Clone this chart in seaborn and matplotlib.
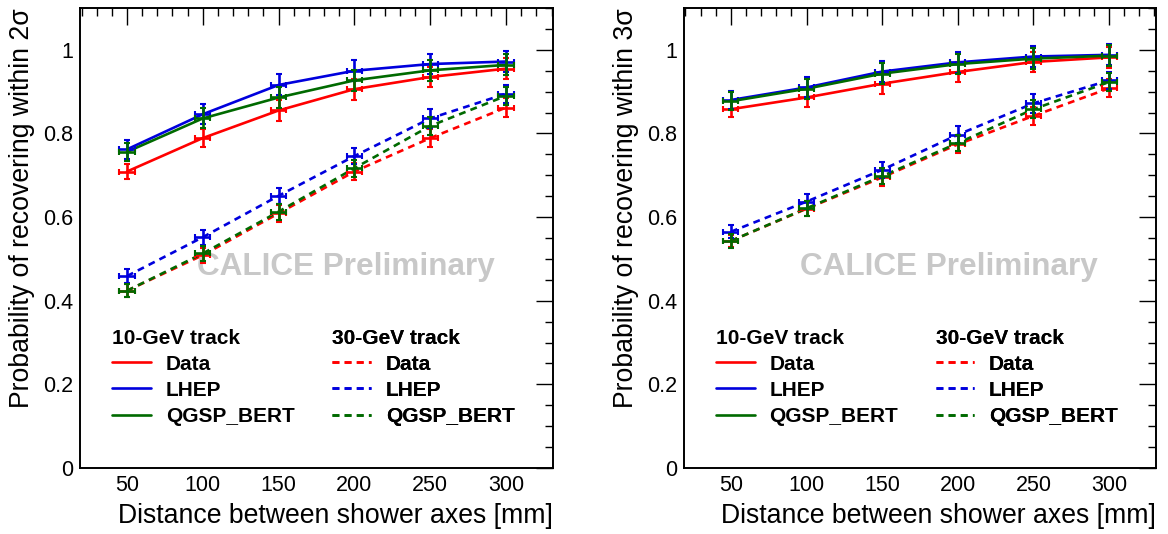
import numpy as np
import pandas as pd
import seaborn as sns
import matplotlib.pyplot as plt
from matplotlib.lines import Line2D
from matplotlib.ticker import MultipleLocator, FuncFormatter

# distances between shower axes [mm]
distance = [50, 100, 150, 200, 250, 300]
x_err = [5, 5, 5, 5, 5, 5]

# probability of recovering within 2 sigma
p2_data_10 = [0.709, 0.789, 0.855, 0.906, 0.935, 0.955]
p2_lhep_10 = [0.762, 0.846, 0.916, 0.950, 0.966, 0.972]
p2_qgsp_10 = [0.756, 0.836, 0.886, 0.927, 0.951, 0.964]
p2_data_30 = [0.424, 0.509, 0.609, 0.709, 0.789, 0.862]
p2_lhep_30 = [0.459, 0.552, 0.651, 0.746, 0.836, 0.895]
p2_qgsp_30 = [0.424, 0.513, 0.613, 0.717, 0.818, 0.890]

# probability of recovering within 3 sigma
p3_data_10 = [0.858, 0.886, 0.919, 0.947, 0.971, 0.982]
p3_lhep_10 = [0.880, 0.910, 0.948, 0.970, 0.984, 0.988]
p3_qgsp_10 = [0.877, 0.907, 0.943, 0.966, 0.979, 0.986]
p3_data_30 = [0.543, 0.620, 0.695, 0.774, 0.842, 0.908]
p3_lhep_30 = [0.565, 0.637, 0.713, 0.797, 0.872, 0.927]
p3_qgsp_30 = [0.543, 0.621, 0.698, 0.777, 0.858, 0.923]

# statistical errors (same for both panels, read roughly)
err_data_10 = [0.019, 0.022, 0.025, 0.025, 0.023, 0.025]
err_mc_10 = [0.022, 0.024, 0.025, 0.025, 0.025, 0.025]
err_data_30 = [0.015, 0.018, 0.020, 0.020, 0.022, 0.022]
err_mc_30 = [0.016, 0.018, 0.019, 0.020, 0.022, 0.021]

models = ["Data", "LHEP", "QGSP_BERT"]
colors = {"Data": "#ff0000", "LHEP": "#0000dd", "QGSP_BERT": "#006a00"}

panels = [
    ("2", {("10", "Data"): p2_data_10, ("10", "LHEP"): p2_lhep_10, ("10", "QGSP_BERT"): p2_qgsp_10,
           ("30", "Data"): p2_data_30, ("30", "LHEP"): p2_lhep_30, ("30", "QGSP_BERT"): p2_qgsp_30}),
    ("3", {("10", "Data"): p3_data_10, ("10", "LHEP"): p3_lhep_10, ("10", "QGSP_BERT"): p3_qgsp_10,
           ("30", "Data"): p3_data_30, ("30", "LHEP"): p3_lhep_30, ("30", "QGSP_BERT"): p3_qgsp_30}),
]
errors = {("10", "Data"): err_data_10, ("10", "LHEP"): err_mc_10, ("10", "QGSP_BERT"): err_mc_10,
          ("30", "Data"): err_data_30, ("30", "LHEP"): err_mc_30, ("30", "QGSP_BERT"): err_mc_30}

sns.set_style("white")
plt.rcParams["font.family"] = ["Liberation Sans", "DejaVu Sans"]
for key in ["text.color", "axes.labelcolor", "xtick.color", "ytick.color"]:
    plt.rcParams[key] = "black"

fig = plt.figure(figsize=(11.68, 5.34), dpi=100)
axes = [fig.add_axes([0.0685, 0.1236, 0.405, 0.8614]),
        fig.add_axes([0.5856, 0.1236, 0.4041, 0.8614])]

dash = (2.6, 2.0)

for ax, (nsig, series) in zip(axes, panels):
    rows = []
    for (energy, model), vals in series.items():
        for d, v, e in zip(distance, vals, errors[(energy, model)]):
            rows.append({"distance": d, "prob": v, "err": e, "energy": energy, "model": model})
    df = pd.DataFrame(rows)

    sns.lineplot(data=df, x="distance", y="prob", hue="model", style="energy",
                 palette=colors, dashes={"10": "", "30": dash}, hue_order=models,
                 linewidth=1.9, legend=False, ax=ax, zorder=3)

    for (energy, model), grp in df.groupby(["energy", "model"]):
        ax.errorbar(grp["distance"], grp["prob"], xerr=x_err, yerr=grp["err"],
                    fmt="none", ecolor=colors[model], elinewidth=1.9, capsize=2,
                    capthick=1.5, zorder=4,
                    linestyle="--" if energy == "30" else "-")

    ax.set_xlim(19, 331)
    ax.set_ylim(0, 1.1)
    ax.xaxis.set_major_locator(MultipleLocator(50))
    ax.xaxis.set_minor_locator(MultipleLocator(10))
    ax.yaxis.set_major_locator(MultipleLocator(0.2))
    ax.yaxis.set_minor_locator(MultipleLocator(0.05))
    ax.yaxis.set_major_formatter(FuncFormatter(lambda v, p: f"{v:g}"))
    ax.tick_params(which="both", direction="in", top=True, right=True,
                   labelsize=15.5, color="black", width=1.0, pad=5)
    ax.tick_params(which="major", length=12)
    ax.tick_params(which="minor", length=6)
    for s in ax.spines.values():
        s.set_color("black")
        s.set_linewidth(1.4)

    ax.set_xlabel("Distance between shower axes [mm]", fontsize=19.2, loc="right", labelpad=5)
    ax.set_ylabel(f"Probability of recovering within {nsig}\u03c3", fontsize=19.2,
                  loc="top", labelpad=6)

    ax.text(0.562, 0.437, "CALICE Preliminary", transform=ax.transAxes, ha="center",
            va="center", fontsize=22.7, fontweight="bold", color="#c8c8c8", zorder=1)

    # two-column legend
    for energy, x0 in [("10", 0.068), ("30", 0.533)]:
        handles = [Line2D([], [], color=colors[m], lw=1.9,
                          dashes=dash if energy == "30" else (None, None))
                   for m in models]
        leg = ax.legend(handles, models, title=f"{energy}-GeV track", loc="upper left",
                        bbox_to_anchor=(x0, 0.303), frameon=False, alignment="left",
                        borderpad=0, borderaxespad=0, handlelength=1.85,
                        handletextpad=0.72, labelspacing=0.34,
                        prop={"size": 15, "weight": "bold"},
                        title_fontproperties={"size": 15, "weight": "bold"})
        ax.add_artist(leg)

fig.savefig("out.png", dpi=100)
